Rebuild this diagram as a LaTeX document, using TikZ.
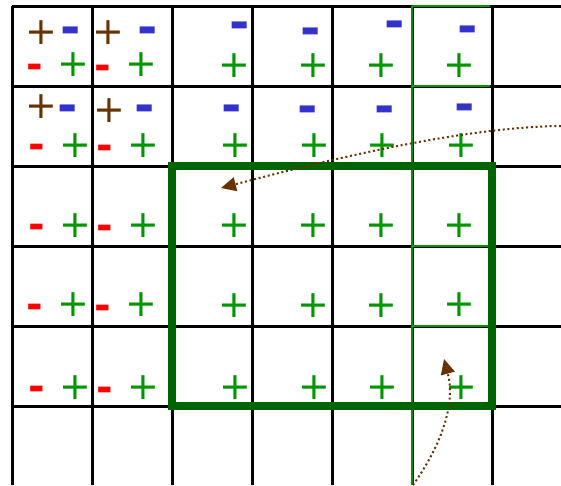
\documentclass[tikz,border=0pt]{standalone}
\usepackage{fontspec}
\setsansfont{DejaVu Sans}
\usetikzlibrary{arrows.meta}
\definecolor{plusgreen}{RGB}{0,150,0}
\definecolor{boxgreen}{RGB}{0,100,0}
\definecolor{barblue}{RGB}{51,51,204}
\definecolor{barred}{RGB}{255,0,0}
\definecolor{signbrown}{RGB}{102,51,0}
\tikzset{
  gplus/.style={inner sep=0pt,text=plusgreen,font=\fontsize{38}{38}\sffamily},
  bplus/.style={inner sep=0pt,text=signbrown,font=\fontsize{38}{38}\sffamily},
  bminus/.style={inner sep=0pt,text=barblue,font=\fontsize{49}{49}\sffamily\bfseries,
    yshift=-5.6pt},
  rminus/.style={inner sep=0pt,text=barred,font=\fontsize{40}{40}\sffamily\bfseries,
    yshift=-4.6pt},
  hint/.style={signbrown,line width=2pt,dash pattern=on 2pt off 2.7pt,
    -{Triangle[length=15pt,width=14pt]}}
}

\begin{document}
\begin{tikzpicture}[x=1pt,y=-1pt]
    \useasboundingbox (0,0) rectangle (561,485);
    % grid
    \foreach \y in {6,86,...,406} \draw[line width=3pt] (12,\y) -- (561,\y);
    \foreach \x in {12,92,...,492} \draw[line width=3pt] (\x,6) -- (\x,485);
    % highlighted column
    \draw[plusgreen,line width=2.5pt] (412,6) -- (412,485);
    \foreach \y in {6,86,...,326} \draw[plusgreen,line width=2.5pt] (412,\y) -- (490,\y);
    % signs
    \foreach \x/\y [count=\i] in {73/65,141/65,234/66,313/66,381/66,459/66,
        75/146,143/146,235/146,314/146,382/146,461/146,
        75/226,143/226,234/226,313/226,381/226,459/226,
        73/305,141/305,234/306,313/306,381/306,459/305,
        75/388,143/388,235/388,314/388,382/388,461/388}
        \node[gplus] (gp\i) at (\x,\y) {+};
    \foreach \x/\y [count=\i] in {41/33,108/33,41/107,109/111}
        \node[bplus] (bp\i) at (\x,\y) {+};
    \foreach \x/\y [count=\i] in {71/30,148/30,240/25,311/31,395/24,468/29,
        68/108,145/108,232/108,308/109,385/109,465/107}
        \node[bminus] (bm\i) at (\x,\y) {-};
    \foreach \x/\y [count=\i] in {35/67,103/68,37/147,105/148,37/227,105/228,
        35/307,103/308,37/389,105/390}
        \node[rminus] (rm\i) at (\x,\y) {-};
    % window
    \draw[boxgreen,line width=8pt] (172,166) rectangle (492,406);
    % moves
    \coordinate (from1) at (561,126);
    \coordinate (to1) at (221,188);
    \coordinate (from2) at (413,485);
    \coordinate (to2) at (444,359);
    \draw[hint] (from1) .. controls (450,127) and (290,170) .. (to1);
    \draw[hint] (from2) .. controls (445,440) and (455,400) .. (to2);
\end{tikzpicture}
\end{document}
